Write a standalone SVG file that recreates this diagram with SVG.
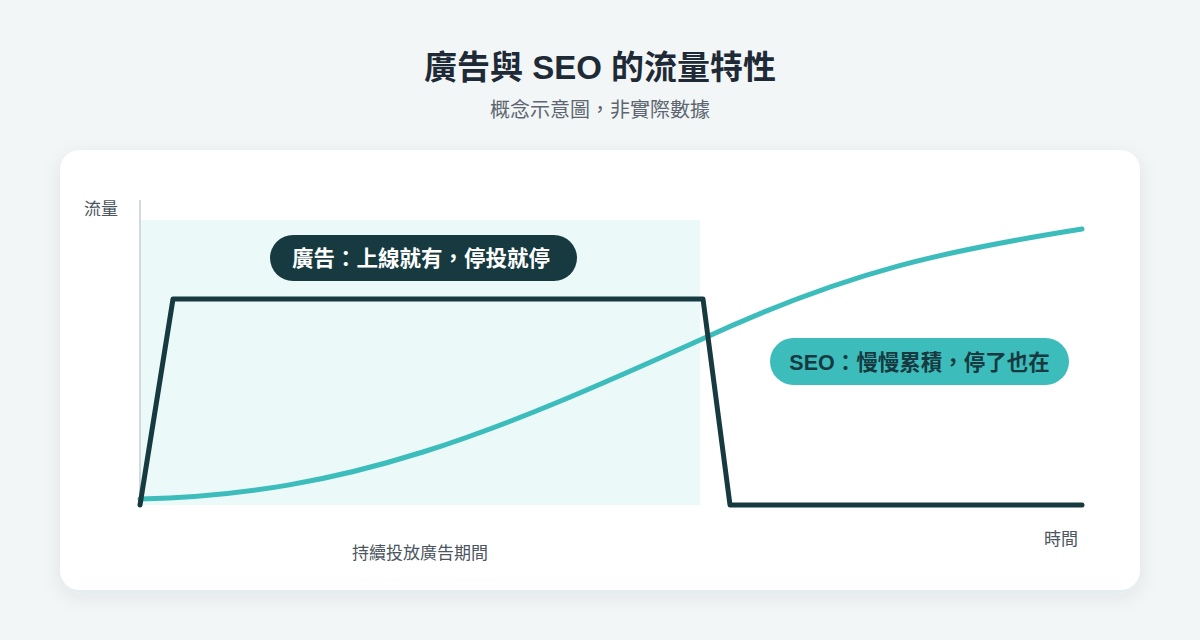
<svg xmlns="http://www.w3.org/2000/svg" width="1200" height="640" viewBox="0 0 1200 640">
<defs>
<style>
.t{font-family:"Liberation Sans","Noto Sans CJK TC",sans-serif}
.lbl{font-size:17px;fill:#4a5560}
</style>
<filter id="sh" x="-10%" y="-10%" width="120%" height="130%"><feDropShadow dx="0" dy="6" stdDeviation="10" flood-color="#1f3a40" flood-opacity="0.08"/></filter>
</defs>
<rect width="1200" height="640" fill="#f2f6f7"/>
<text class="t" x="600" y="79" text-anchor="middle" font-size="33" font-weight="bold" fill="#1e2a36">廣告與 SEO 的流量特性</text>
<text class="t" x="600" y="117" text-anchor="middle" font-size="20" fill="#5d6670">概念示意圖，非實際數據</text>
<rect x="60" y="150" width="1080" height="440" rx="20" fill="#fff" filter="url(#sh)"/>
<g id="period"><rect x="140" y="220" width="560" height="285" fill="#ebf9f9"/></g>
<g id="axes" stroke="#d3dadd" stroke-width="2"><line x1="140" y1="200" x2="140" y2="505"/></g>
<g id="connectors" fill="none" stroke-width="5" stroke-linejoin="round" stroke-linecap="round">
<path d="M140,499 C350,495 500,430 700,340 C850,270 950,250 1082,229" stroke="#3dbcbc"/>
<path d="M140,505 L173,299 L703,299 L730,505 L1082,505" stroke="#163a3f"/>
</g>
<g id="labels">
<text class="t lbl" x="84" y="215">流量</text>
<text class="t lbl" x="1044" y="545">時間</text>
<text class="t lbl" x="420" y="559" text-anchor="middle" font-size="18">持續投放廣告期間</text>
</g>
<g id="ad-pill"><rect x="270" y="235" width="307" height="46" rx="23" fill="#163a3f"/>
<text class="t" x="421" y="265.5" text-anchor="middle" font-size="21.5" font-weight="bold" fill="#fff">廣告：上線就有，停投就停</text></g>
<g id="seo-pill"><rect x="770" y="338" width="299" height="47" rx="23.5" fill="#3dbcbc"/>
<text class="t" x="919.5" y="369.5" text-anchor="middle" font-size="21.5" font-weight="bold" fill="#163a3f">SEO：慢慢累積，停了也在</text></g>
</svg>
